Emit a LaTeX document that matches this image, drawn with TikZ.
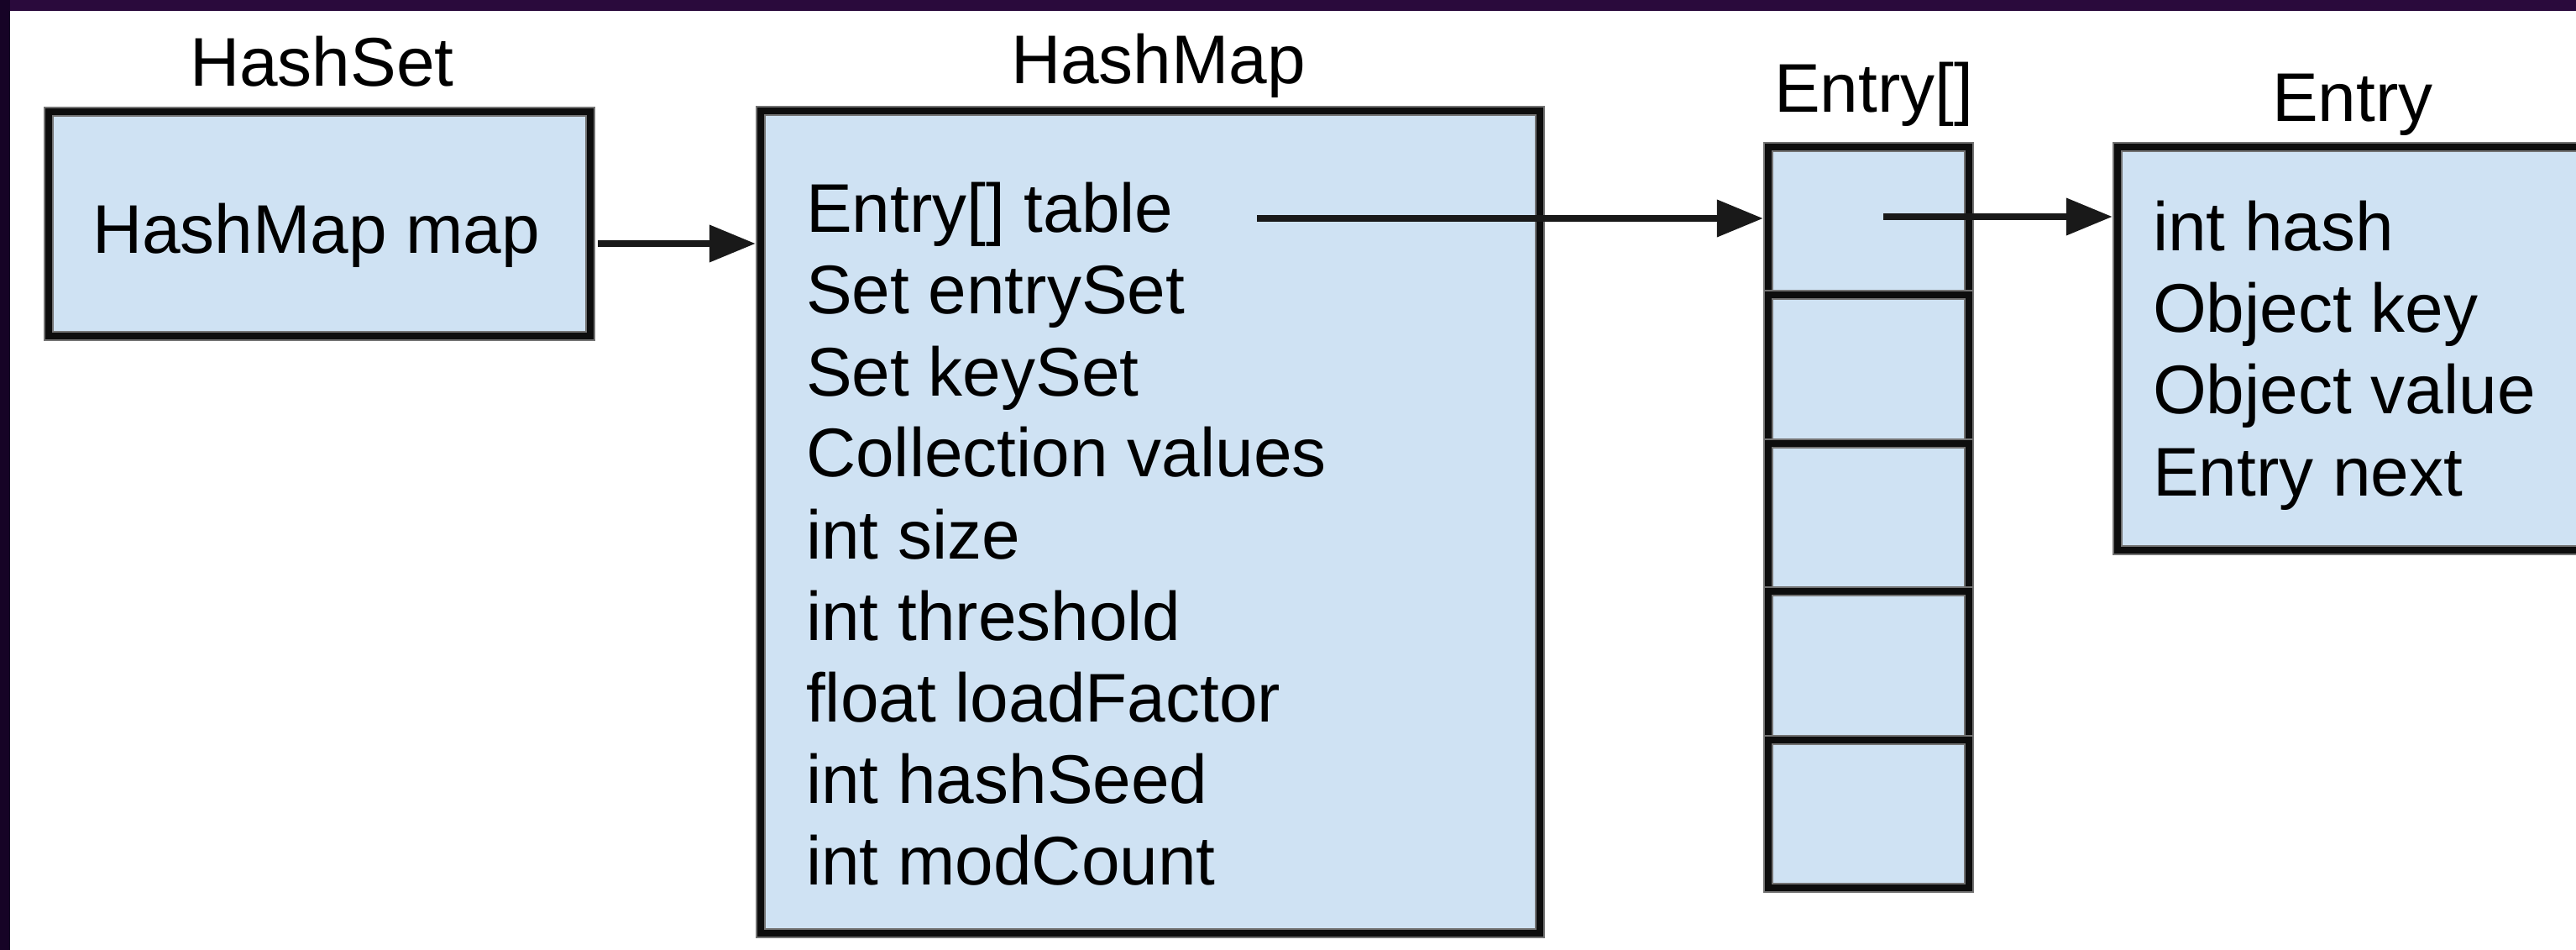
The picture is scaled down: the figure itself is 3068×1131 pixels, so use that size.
\documentclass[tikz,border=0pt]{standalone}
\usepackage{fontspec}
\setmainfont{Liberation Sans}
\usetikzlibrary{arrows.meta,fit}
\definecolor{boxblue}{HTML}{CFE2F3}
\definecolor{bandtop}{HTML}{2A0A3C}
\definecolor{bandleft}{HTML}{160326}
\begin{document}
\begin{tikzpicture}[x=0.2pt,y=-0.2pt,
  box/.style={fill=boxblue, draw=black!55, line width=2.5pt, inner sep=0pt,
              postaction={draw=black!95, line width=1.5pt}},
  txt/.style={anchor=base west, inner sep=0pt, font=\fontsize{16.4pt}{19.7pt}\selectfont},
  arr/.style={draw=black!90, line width=1.5pt, -{Triangle[length=11pt,width=8.6pt]}}]
\useasboundingbox (0,0) rectangle (3068,1131);
\clip (0,0) rectangle (3068,1131);
% page background and dark frame bands
\fill[white] (0,0) rectangle (3068,1131);
\fill[bandtop] (0,0) rectangle (3068,13);
\fill[bandleft] (0,0) rectangle (12,1131);

% class titles
\node[txt] (tset)   at (225,103)  {HashSet};
\node[txt] (tmap)   at (1203,100) {HashMap};
\node[txt] (tarr)   at (2112,134) {Entry[]};
\node[txt] (tentry) at (2705,145) {Entry};

% HashSet object
\node[box, fit={(58,133) (703,400)}] (hs) {};
\node[txt] (hsf) at (109,302) {HashMap map};

% HashMap object
\node[box, fit={(906,132) (1834,1111)}] (hm) {};
\node[txt] (m1) at (959,277)  {Entry[] table};
\node[txt] (m2) at (959,374)  {Set entrySet};
\node[txt] (m3) at (959,471)  {Set keySet};
\node[txt] (m4) at (959,568)  {Collection values};
\node[txt] (m5) at (959,665)  {int size};
\node[txt] (m6) at (959,762)  {int threshold};
\node[txt] (m7) at (959,859)  {float loadFactor};
\node[txt] (m8) at (959,956)  {int hashSeed};
\node[txt] (m9) at (959,1053) {int modCount};

% bucket array
\node[box, fit={(2106,175) (2345,351)}]  (c1) {};
\node[box, fit={(2106,351) (2345,528)}]  (c2) {};
\node[box, fit={(2106,528) (2345,704)}]  (c3) {};
\node[box, fit={(2106,704) (2345,881)}]  (c4) {};
\node[box, fit={(2106,881) (2345,1057)}] (c5) {};

% Entry object
\node[box, fit={(2522,175) (3130,655)}] (en) {};
\node[txt] (e1) at (2563,299) {int hash};
\node[txt] (e2) at (2563,396) {Object key};
\node[txt] (e3) at (2563,493) {Object value};
\node[txt] (e4) at (2563,590) {Entry next};

% references
\coordinate (a1) at (712,290);
\draw[arr] (a1) -- (a1 -| hm.west);
\coordinate (a2) at (1497,260);
\draw[arr] (a2) -- (a2 -| c1.west);
\coordinate (a3) at (2243,258);
\draw[arr] (a3) -- (a3 -| en.west);
\end{tikzpicture}
\end{document}
